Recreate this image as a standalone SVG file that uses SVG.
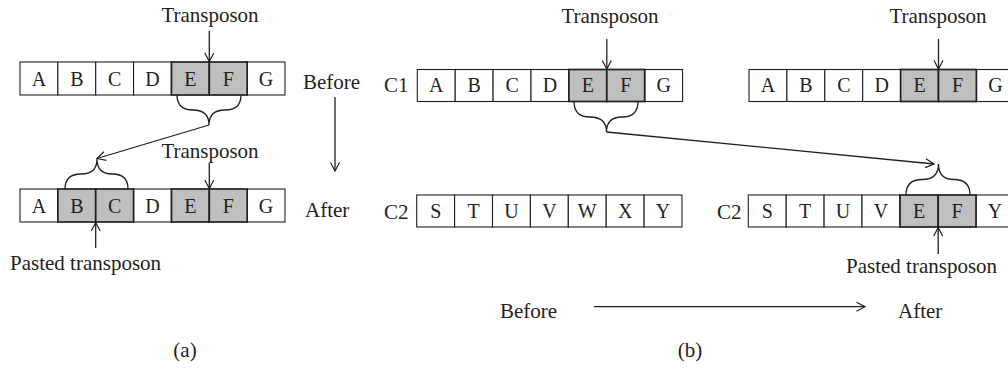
<svg xmlns="http://www.w3.org/2000/svg" width="1008" height="368" viewBox="0 0 1008 368">
<style>
text{font-family:"Liberation Serif","Times New Roman",serif;fill:#231f20}
.lbl{font-size:21px}
.cl{font-size:20px;text-anchor:middle}
.c{fill:#fff;stroke:#231f20;stroke-width:1.1}
.g{fill:#bfbfbf;stroke:#231f20;stroke-width:1.7}
.ln{fill:none;stroke:#231f20;stroke-width:1.3}
.br{fill:none;stroke:#231f20;stroke-width:1.3}
</style>
<defs>
<marker id="ah" viewBox="0 0 11 11" refX="10" refY="5.5" markerWidth="11" markerHeight="11" markerUnits="userSpaceOnUse" orient="auto">
<path d="M1.5,1 L10,5.5 L1.5,10" fill="none" stroke="#231f20" stroke-width="1.2"/>
</marker>
</defs>

<!-- Panel (a) -->
<g id="a-row-before">
<rect class="c" x="20" y="62" width="37.86" height="33"/>
<rect class="c" x="57.86" y="62" width="37.86" height="33"/>
<rect class="c" x="95.71" y="62" width="37.86" height="33"/>
<rect class="c" x="133.57" y="62" width="37.86" height="33"/>
<rect class="c" x="247.14" y="62" width="37.86" height="33"/>
<rect class="g" x="171.43" y="62" width="37.86" height="33"/>
<rect class="g" x="209.29" y="62" width="37.86" height="33"/>
<text class="cl" x="38.9" y="85.5">A</text>
<text class="cl" x="76.8" y="85.5">B</text>
<text class="cl" x="114.6" y="85.5">C</text>
<text class="cl" x="152.5" y="85.5">D</text>
<text class="cl" x="190.4" y="85.5">E</text>
<text class="cl" x="228.2" y="85.5">F</text>
<text class="cl" x="266.1" y="85.5">G</text>
</g>
<g id="a-row-after">
<rect class="c" x="20" y="189" width="37.86" height="33"/>
<rect class="c" x="133.57" y="189" width="37.86" height="33"/>
<rect class="c" x="247.14" y="189" width="37.86" height="33"/>
<rect class="g" x="57.86" y="189" width="37.86" height="33"/>
<rect class="g" x="95.71" y="189" width="37.86" height="33"/>
<rect class="g" x="171.43" y="189" width="37.86" height="33"/>
<rect class="g" x="209.29" y="189" width="37.86" height="33"/>
<text class="cl" x="38.9" y="212.5">A</text>
<text class="cl" x="76.8" y="212.5">B</text>
<text class="cl" x="114.6" y="212.5">C</text>
<text class="cl" x="152.5" y="212.5">D</text>
<text class="cl" x="190.4" y="212.5">E</text>
<text class="cl" x="228.2" y="212.5">F</text>
<text class="cl" x="266.1" y="212.5">G</text>
</g>
<g id="a-labels">
<text class="lbl" x="210" y="22" text-anchor="middle">Transposon</text>
<text class="lbl" x="303" y="88.5">Before</text>
<text class="lbl" x="210" y="158" text-anchor="middle">Transposon</text>
<text class="lbl" x="305" y="216.5">After</text>
<text class="lbl" x="10" y="270">Pasted transposon</text>
<text class="lbl" x="185" y="357" text-anchor="middle">(a)</text>
</g>

<!-- Panel (b) -->
<g id="b-c1-before">
<rect class="c" x="417.3" y="69.5" width="37.9" height="32"/>
<rect class="c" x="455.2" y="69.5" width="37.9" height="32"/>
<rect class="c" x="493.1" y="69.5" width="37.9" height="32"/>
<rect class="c" x="531" y="69.5" width="37.9" height="32"/>
<rect class="c" x="644.7" y="69.5" width="37.9" height="32"/>
<rect class="g" x="568.9" y="69.5" width="37.9" height="32"/>
<rect class="g" x="606.8" y="69.5" width="37.9" height="32"/>
<text class="lbl" x="384" y="92">C1</text>
<text class="cl" x="436.3" y="92">A</text>
<text class="cl" x="474.2" y="92">B</text>
<text class="cl" x="512.1" y="92">C</text>
<text class="cl" x="550" y="92">D</text>
<text class="cl" x="587.9" y="92">E</text>
<text class="cl" x="625.8" y="92">F</text>
<text class="cl" x="663.7" y="92">G</text>
</g>
<g id="b-c2-before">
<rect class="c" x="416.7" y="195" width="37.9" height="32"/>
<rect class="c" x="454.6" y="195" width="37.9" height="32"/>
<rect class="c" x="492.5" y="195" width="37.9" height="32"/>
<rect class="c" x="530.4" y="195" width="37.9" height="32"/>
<rect class="c" x="568.3" y="195" width="37.9" height="32"/>
<rect class="c" x="606.2" y="195" width="37.9" height="32"/>
<rect class="c" x="644.1" y="195" width="37.9" height="32"/>
<text class="lbl" x="384" y="218.5">C2</text>
<text class="cl" x="435.7" y="218">S</text>
<text class="cl" x="473.6" y="218">T</text>
<text class="cl" x="511.5" y="218">U</text>
<text class="cl" x="549.4" y="218">V</text>
<text class="cl" x="587.3" y="218">W</text>
<text class="cl" x="625.2" y="218">X</text>
<text class="cl" x="663.1" y="218">Y</text>
</g>
<g id="b-c1-after">
<rect class="c" x="749" y="69.5" width="37.9" height="32"/>
<rect class="c" x="786.9" y="69.5" width="37.9" height="32"/>
<rect class="c" x="824.8" y="69.5" width="37.9" height="32"/>
<rect class="c" x="862.7" y="69.5" width="37.9" height="32"/>
<rect class="c" x="976.4" y="69.5" width="37.9" height="32"/>
<rect class="g" x="900.6" y="69.5" width="37.9" height="32"/>
<rect class="g" x="938.5" y="69.5" width="37.9" height="32"/>
<text class="cl" x="768" y="92">A</text>
<text class="cl" x="805.9" y="92">B</text>
<text class="cl" x="843.8" y="92">C</text>
<text class="cl" x="881.7" y="92">D</text>
<text class="cl" x="919.6" y="92">E</text>
<text class="cl" x="957.5" y="92">F</text>
<text class="cl" x="995.4" y="92">G</text>
</g>
<g id="b-c2-after">
<rect class="c" x="748.3" y="195" width="37.9" height="32"/>
<rect class="c" x="786.2" y="195" width="37.9" height="32"/>
<rect class="c" x="824.1" y="195" width="37.9" height="32"/>
<rect class="c" x="862" y="195" width="37.9" height="32"/>
<rect class="c" x="976" y="195" width="37.9" height="32"/>
<rect class="g" x="900" y="195" width="38.2" height="32"/>
<rect class="g" x="938.2" y="195" width="37.8" height="32"/>
<text class="lbl" x="717" y="218.5">C2</text>
<text class="cl" x="767.3" y="218">S</text>
<text class="cl" x="805.2" y="218">T</text>
<text class="cl" x="843.1" y="218">U</text>
<text class="cl" x="881" y="218">V</text>
<text class="cl" x="919.1" y="218">E</text>
<text class="cl" x="957.1" y="218">F</text>
<text class="cl" x="995" y="218">Y</text>
</g>
<g id="b-labels">
<text class="lbl" x="610" y="23" text-anchor="middle">Transposon</text>
<text class="lbl" x="938" y="23" text-anchor="middle">Transposon</text>
<text class="lbl" x="846" y="273">Pasted transposon</text>
<text class="lbl" x="500" y="318">Before</text>
<text class="lbl" x="898" y="318">After</text>
<text class="lbl" x="690" y="357" text-anchor="middle">(b)</text>
</g>

<g id="braces">
<path class="br" d="M177,95 Q177,110 193,110 Q209,110 209,125 M241,95 Q241,110 225,110 Q209,110 209,125"/>
<path class="br" d="M65,189 Q65,174 81,174 Q97,174 97,159 M128,189 Q128,174 112.5,174 Q97,174 97,159"/>
<path class="br" d="M574,101.5 Q574,117 590,117 Q606.5,117 606.5,132 M638,101.5 Q638,117 622,117 Q606.5,117 606.5,132"/>
<path class="br" d="M906,195 Q906,179.5 922,179.5 Q938.5,179.5 938.5,164 M970,195 Q970,179.5 954,179.5 Q938.5,179.5 938.5,164"/>
</g>

<g id="connectors">
<line class="ln" x1="209.3" y1="31" x2="209.3" y2="61.5" marker-end="url(#ah)"/>
<line class="ln" x1="335" y1="97" x2="335" y2="171" marker-end="url(#ah)"/>
<line class="ln" x1="209" y1="125" x2="97" y2="158.5" marker-end="url(#ah)"/>
<line class="ln" x1="209.3" y1="163" x2="209.3" y2="188.5" marker-end="url(#ah)"/>
<line class="ln" x1="95.7" y1="248" x2="95.7" y2="222.5" marker-end="url(#ah)"/>
<line class="ln" x1="606.8" y1="39" x2="606.8" y2="69" marker-end="url(#ah)"/>
<line class="ln" x1="938.5" y1="39" x2="938.5" y2="69" marker-end="url(#ah)"/>
<line class="ln" x1="606.5" y1="132" x2="934" y2="164" marker-end="url(#ah)"/>
<line class="ln" x1="938.2" y1="254" x2="938.2" y2="227.5" marker-end="url(#ah)"/>
<line class="ln" x1="594" y1="306.7" x2="865" y2="306.7" marker-end="url(#ah)"/>
</g>
</svg>
